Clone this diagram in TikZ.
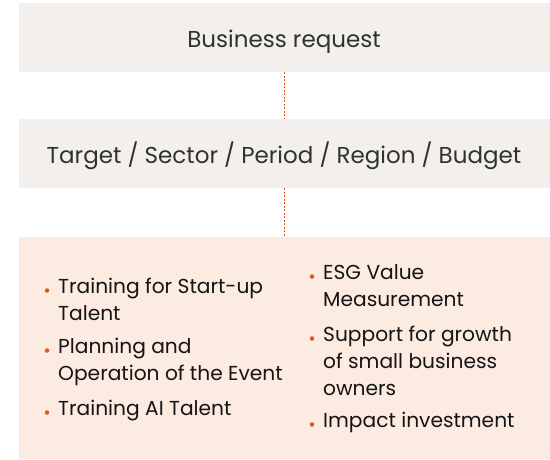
\documentclass[tikz,border=0pt]{standalone}
\usepackage{fontspec}
\setmainfont{Poppins}
\definecolor{boxgray}{HTML}{F3EFEC}
\definecolor{boxpeach}{HTML}{FCEBE0}
\definecolor{txt}{HTML}{2E332F}
\definecolor{itemtxt}{HTML}{141414}
\definecolor{accent}{HTML}{E8501A}
\tikzset{
  band/.style={fill=boxgray, draw=none},
  head/.style={text=txt, font=\fontsize{23}{27}\selectfont, inner sep=0pt, anchor=base},
  item/.style={text=itemtxt, font=\fontsize{20.2}{27}\selectfont, inner sep=0pt, anchor=base west},
  dot/.style={circle, fill=accent, inner sep=0pt, minimum size=4.5pt},
  link/.style={draw=accent, line width=0.8pt, dash pattern=on 2pt off 1.5pt}
}
\newcommand{\itemlines}[1]{\begin{tabular}[t]{@{}l@{}}#1\end{tabular}}
\begin{document}
\begin{tikzpicture}[x=1pt,y=-1pt]
\useasboundingbox (0,0) rectangle (550,459);
\fill[white] (0,0) rectangle (550,459);
\node[band, minimum width=531pt, minimum height=69pt, anchor=north west] (b1) at (19,3) {};
\node[band, minimum width=531pt, minimum height=69pt, anchor=north west] (b2) at (19,119) {};
\node[fill=boxpeach, minimum width=531pt, minimum height=222pt, anchor=north west] (b3) at (19,237) {};
\node[head] (t1) at (284,47) {Business request};
\node[head] (t2) at (284,163) {Target / Sector / Period / Region / Budget};
\draw[link] (b1.south -| 284,0) coordinate (c1) -- (b2.north -| c1);
\draw[link] (b2.south -| 284,0) coordinate (c2) -- (b3.north -| c2);
% left column
\node[item] (l1) at (58,293) {\itemlines{Training for Start-up\\Talent}};
\node[item] (l2) at (58,353) {\itemlines{Planning and\\Operation of the Event}};
\node[item] (l3) at (58,415) {\itemlines{Training AI Talent}};
% right column
\node[item] (r1) at (323,279) {\itemlines{ESG Value\\Measurement}};
\node[item] (r2) at (323,341) {\itemlines{Support for growth\\of small business\\owners}};
\node[item] (r3) at (323,427) {\itemlines{Impact investment}};
\foreach \n in {l1,l2,l3,r1,r2,r3}{
  \node[dot] (d\n) at ([xshift=-11pt,yshift=2.5pt]\n.base west) {};
}
\end{tikzpicture}
\end{document}
